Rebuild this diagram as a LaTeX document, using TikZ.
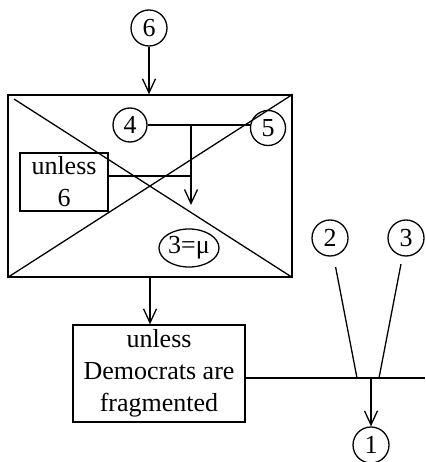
\documentclass[tikz,border=0pt]{standalone}
\usepackage{fontspec}
\setmainfont{Liberation Serif}
\usetikzlibrary{arrows.meta,shapes.geometric,calc}
\begin{document}
\begin{tikzpicture}[x=1pt,y=-1pt,
  line width=1.3pt,
  every node/.style={font=\fontsize{26}{32}\selectfont, inner sep=0pt},
  num/.style={draw, circle, minimum size=36pt},
  rbox/.style={draw, rectangle, align=center},
  arr/.style={-{Straight Barb[length=14pt,width=13pt,line width=1.3pt]}}]
\useasboundingbox (0,0) rectangle (425,462);
% big crossed box
\node[rbox, minimum width=284pt, minimum height=182pt] (big) at (150,186) {};
\coordinate (dstart) at (14,99);
\draw (dstart) -- (big.south east);
\draw (big.south west) -- (big.north east);
% top circle 6
\node[num] (c6) at (149,28) {6};
\draw[arr] (c6) -- (big.north -| c6);
% inner nodes
\node[num, minimum size=34pt] (c4) at (130,125) {4};
\node[num, minimum size=35pt] (c5) at (268,128) {5};
\node[rbox, minimum width=88pt, minimum height=58pt] (u6) at (64,182) {unless\\6};
\node[draw, ellipse, minimum width=60pt, minimum height=38pt] (c3mu) at (189,248) {3=μ};
\coordinate (v) at (191,125);
\coordinate (h) at (191,176);
\coordinate (vt) at (191,205);
\draw (c4.east) -- (c4.east -| c5.west);
\draw[arr] (v) -- (vt);
\draw (u6.east |- h) -- (h);
% lower box
\node[rbox, minimum width=172pt, minimum height=97pt] (dem) at (159,373.5) {unless\\Democrats are\\fragmented};
\draw[arr] (big.south -| 150,0) -- (dem.north -| 150,0);
% right part
\coordinate (rend) at (425,378);
\coordinate (j2) at (357,378);
\coordinate (j3) at (379,378);
\coordinate (j1) at (371,378);
\draw (dem.east |- rend) -- (rend);
\node[num] (c2) at (330,238) {2};
\node[num] (c3) at (406,238) {3};
\node[num] (c1) at (371,445) {1};
\draw[shorten <=11pt] (c2) -- (j2);
\draw[shorten <=8pt] (c3) -- (j3);
\draw[arr] (j1) -- (c1);
\end{tikzpicture}
\end{document}
